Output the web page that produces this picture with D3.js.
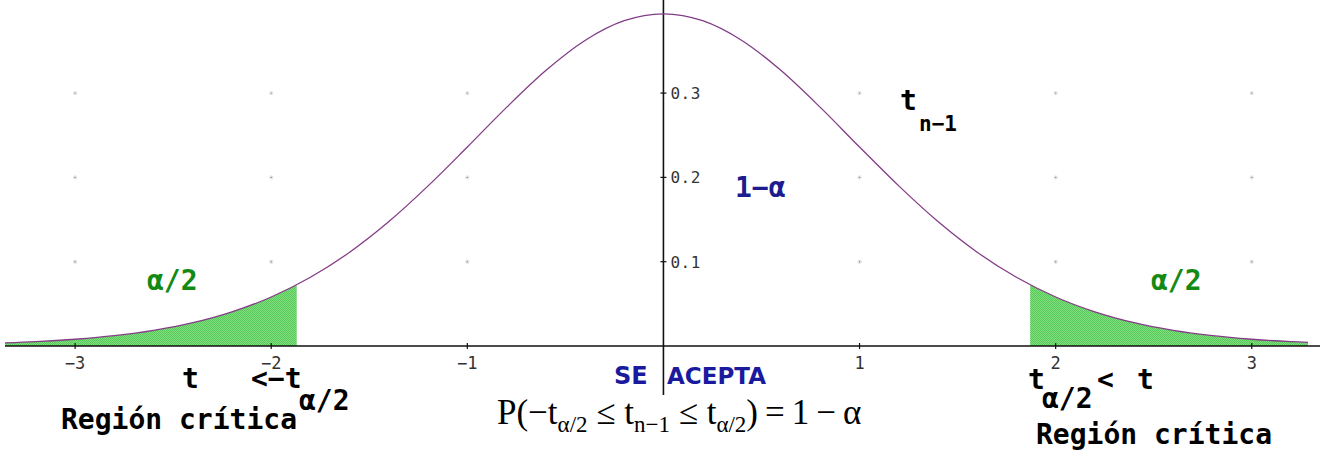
<!DOCTYPE html>
<html>
<head>
<meta charset="utf-8">
<script src="https://cdn.jsdelivr.net/npm/d3@7"></script>
<style>
  html, body { margin: 0; padding: 0; background: #fff; }
  svg { display: block; }
</style>
</head>
<body>
<svg id="chart" width="1320" height="455"></svg>
<script>
// Student t density (n-1 degrees of freedom) sampled along the t axis
const tValues = [-3.4, -3.2, -3.0, -2.8, -2.6, -2.4, -2.2, -2.0, -1.8, -1.6, -1.4, -1.2,
                 -1.0, -0.8, -0.6, -0.4, -0.2, 0.0, 0.2, 0.4, 0.6, 0.8, 1.0, 1.2,
                 1.4, 1.6, 1.8, 2.0, 2.2, 2.4, 2.6, 2.8, 3.0, 3.2, 3.4];
const density = [0.0033, 0.0051, 0.0080, 0.0122, 0.0185, 0.0276, 0.0405, 0.0581, 0.0815, 0.1112, 0.1476, 0.1899,
                 0.2360, 0.2830, 0.3267, 0.3624, 0.3858, 0.3940, 0.3858, 0.3624, 0.3267, 0.2830, 0.2360, 0.1899,
                 0.1476, 0.1112, 0.0815, 0.0581, 0.0405, 0.0276, 0.0185, 0.0122, 0.0080, 0.0051, 0.0033];

// critical value t_{alpha/2}
const tCrit = 1.87;

// axis ticks
const xTicks = [-3, -2, -1, 1, 2, 3];
const xTickLabels = ["\u22123", "\u22122", "\u22121", "1", "2", "3"];
const yTicks = [0.1, 0.2, 0.3];
const yTickLabels = ["0.1", "0.2", "0.3"];

const svg = d3.select("#chart");
const W = 1320, H = 455;

const x = d3.scaleLinear().domain([-3.383, 3.348]).range([0, W]);
const y = d3.scaleLinear().domain([0, 0.4104]).range([346, 0]);

const data = tValues.map((t, i) => ({ t, d: density[i] }));
const curveLeft = 5, curveRight = 1308;

const defs = svg.append("defs");
// fine dotted green texture for the rejection areas
const pat = defs.append("pattern").attr("id", "greenDots")
  .attr("width", 2).attr("height", 2).attr("patternUnits", "userSpaceOnUse");
pat.append("rect").attr("width", 2).attr("height", 2).attr("fill", "#80e080");
pat.append("rect").attr("x", 0).attr("y", 0).attr("width", 1).attr("height", 1).attr("fill", "#58c858");
pat.append("rect").attr("x", 1).attr("y", 1).attr("width", 1).attr("height", 1).attr("fill", "#58c858");

defs.append("clipPath").attr("id", "curveClip")
  .append("rect").attr("x", curveLeft).attr("y", 0)
  .attr("width", curveRight - curveLeft).attr("height", H);

const tails = defs.append("clipPath").attr("id", "tailClip");
tails.append("rect").attr("x", curveLeft).attr("y", 0)
  .attr("width", x(-tCrit) - curveLeft).attr("height", H);
tails.append("rect").attr("x", x(tCrit)).attr("y", 0)
  .attr("width", curveRight - x(tCrit)).attr("height", H);

// faint grid dots at tick intersections
const gridPts = [];
xTicks.forEach(t => yTicks.forEach(v => gridPts.push([t, v])));
const grid = svg.append("g");
grid.selectAll("circle.halo").data(gridPts).join("circle")
  .attr("cx", d => x(d[0])).attr("cy", d => y(d[1])).attr("r", 2.2)
  .attr("fill", "#e6e6e6");
grid.selectAll("circle.core").data(gridPts).join("circle")
  .attr("cx", d => x(d[0])).attr("cy", d => y(d[1])).attr("r", 0.7)
  .attr("fill", "#888");

// shaded tails
const area = d3.area().x(d => x(d.t)).y0(y(0)).y1(d => y(d.d)).curve(d3.curveMonotoneX);
svg.append("path").datum(data)
  .attr("d", area)
  .attr("fill", "url(#greenDots)")
  .attr("clip-path", "url(#tailClip)");

// axes
svg.append("line").attr("x1", curveLeft).attr("x2", W)
  .attr("y1", y(0)).attr("y2", y(0))
  .attr("stroke", "#111").attr("stroke-width", 1.6);
svg.append("line").attr("x1", x(0)).attr("x2", x(0))
  .attr("y1", 0).attr("y2", 395)
  .attr("stroke", "#111").attr("stroke-width", 1.6);

svg.selectAll("line.xtick").data(xTicks).join("line")
  .attr("x1", d => x(d)).attr("x2", d => x(d))
  .attr("y1", y(0) - 3).attr("y2", y(0) + 3)
  .attr("stroke", "#111").attr("stroke-width", 1.2);
svg.selectAll("line.ytick").data(yTicks).join("line")
  .attr("x1", x(0) - 3).attr("x2", x(0) + 3)
  .attr("y1", d => y(d)).attr("y2", d => y(d))
  .attr("stroke", "#111").attr("stroke-width", 1.2);

const tickFont = "'DejaVu Sans Mono', monospace";
svg.selectAll("text.xlab").data(xTicks).join("text")
  .attr("x", d => x(d)).attr("y", 369)
  .attr("text-anchor", "middle")
  .attr("font-family", tickFont).attr("font-size", 17).attr("fill", "#333")
  .text((d, i) => xTickLabels[i]);
svg.selectAll("text.ylab").data(yTicks).join("text")
  .attr("x", x(0) + 7).attr("y", d => y(d) + 6)
  .attr("font-family", tickFont).attr("font-size", 16).attr("fill", "#333")
  .attr("letter-spacing", 0.5)
  .text((d, i) => yTickLabels[i]);

// density curve
const line = d3.line().x(d => x(d.t)).y(d => y(d.d)).curve(d3.curveMonotoneX);
svg.append("path").datum(data)
  .attr("d", line)
  .attr("fill", "none")
  .attr("stroke", "#833c86").attr("stroke-width", 1.3)
  .attr("clip-path", "url(#curveClip)");

// annotations
const mono = "'DejaVu Sans Mono', monospace";
function label(txt, px, py, size, color, weight, family) {
  return svg.append("text").attr("x", px).attr("y", py)
    .attr("font-family", family || mono).attr("font-size", size)
    .attr("font-weight", weight || "bold").attr("fill", color || "#000")
    .text(txt);
}

const green = "#138a13", blue = "#1c1c8e";
label("\u03b1/2", 147, 290, 28, green);
label("\u03b1/2", 1151, 290, 28, green);
label("1\u2212\u03b1", 735, 197, 28, blue);

label("t", 900, 110, 28, "#000");
label("n\u22121", 919, 131, 21, "#000");

label("t", 182, 388, 28, "#000");
label("<\u2212t", 251, 388, 28, "#000");
label("\u03b1/2", 299, 410, 28, "#000");
label("Regi\u00f3n cr\u00edtica", 61, 429, 28, "#000");

label("t", 1028, 389, 28, "#000");
label("\u03b1/2", 1042, 408, 28, "#000");
label("<", 1097, 389, 28, "#000");
label("t", 1137, 389, 28, "#000");
label("Regi\u00f3n cr\u00edtica", 1036, 444, 28, "#000");

// acceptance label, split by the vertical axis
label("SE", 614, 384, 24, "#1a1a9e", "bold", "'DejaVu Sans', sans-serif");
label("ACEPTA", 667, 384, 23, "#1a1a9e", "bold", "'DejaVu Sans', sans-serif");

// probability statement in serif type
const f = svg.append("text").attr("x", 497).attr("y", 424)
  .attr("font-family", "'Liberation Serif', 'Times New Roman', serif")
  .attr("font-size", 35).attr("fill", "#000");
const parts = [
  ["P(\u2212t", 0], ["\u03b1/2", 1], [" \u2264 t", 0], ["n\u22121", 1],
  [" \u2264 t", 0], ["\u03b1/2", 1], [")\u2009=\u20091\u2009\u2212\u2009\u03b1", 0]
];
let prevSub = 0;
parts.forEach(([s, sub]) => {
  const ts = f.append("tspan").text(s);
  const shift = (sub ? 8 : 0) - (prevSub ? 8 : 0);
  if (shift) ts.attr("dy", shift);
  if (sub) ts.attr("font-size", 23);
  prevSub = sub;
});
</script>
</body>
</html>
